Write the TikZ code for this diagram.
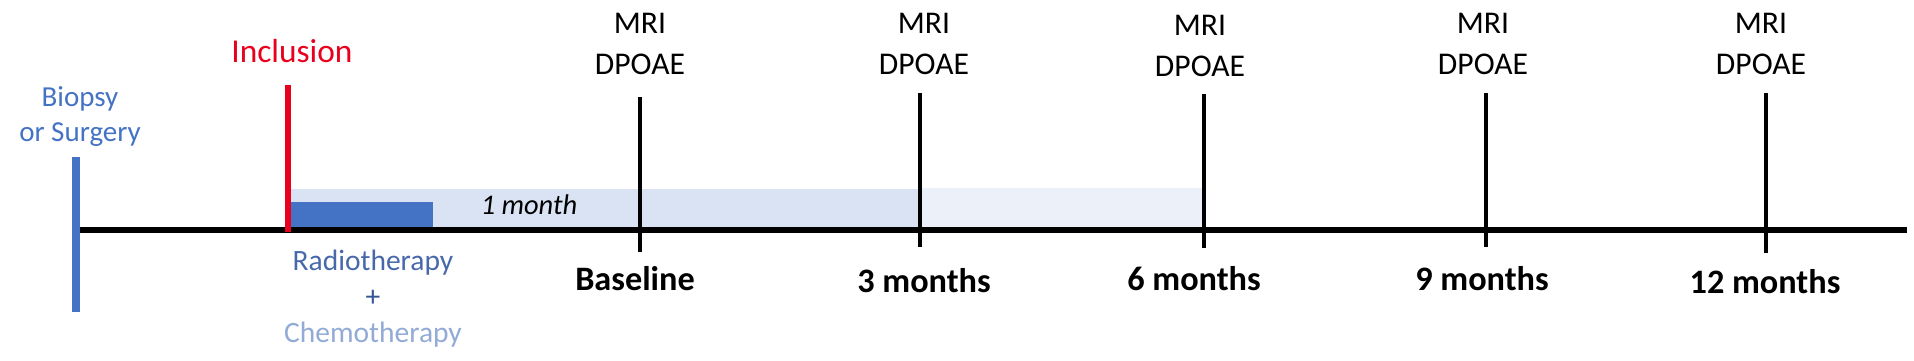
\documentclass[tikz,border=0pt]{standalone}
\usepackage{fontspec}
\setmainfont{Carlito}
\usepackage{xcolor}
\usepackage{tikz}
\definecolor{officeblue}{RGB}{68, 114, 196}
\definecolor{radioblue}{RGB}{72, 104, 172}
\definecolor{plusblue}{RGB}{52, 84, 150}
\definecolor{chemoblue}{RGB}{146, 170, 214}
\definecolor{bandblue}{RGB}{218, 227, 243}
\definecolor{paleblue}{RGB}{236, 241, 249}
\definecolor{inclred}{RGB}{232, 0, 28}

\begin{document}
\begin{tikzpicture}[x=0.02cm, y=-0.02cm,
    exam/.style={align=center, inner sep=0pt, anchor=north,
                 font=\fontsize{18}{23.3}\selectfont},
    timepoint/.style={inner sep=0pt, anchor=base,
                      font=\bfseries\fontsize{19.5}{23}\selectfont},
    visitline/.style={line width=2.8pt, black},
    axisline/.style={line width=3.4pt, black}
]
\useasboundingbox (0,0) rectangle (1914,361);

% treatment period
\fill[paleblue] (920,188) rectangle (1202,229);
\fill[bandblue] (289,189) rectangle (920,229);
\fill[officeblue] (289,202) rectangle (433,229);

% time axis
\draw[axisline] (76,230) -- (1907,230);
\draw[visitline] (640,97) -- (640,252);
\draw[visitline] (920,93) -- (920,247);
\draw[visitline] (1204,94) -- (1204,248);
\draw[visitline] (1486,93) -- (1486,247);
\draw[visitline] (1766,93) -- (1766,253);
\draw[inclred, line width=3pt] (288,85) -- (288,232);
\draw[officeblue, line width=4.5pt] (76,157) -- (76,312);

% labels
\node[align=center, inner sep=0pt, anchor=north, text=officeblue,
      font=\fontsize{16.5}{19.9}\selectfont] (biopsy) at (80,86) {Biopsy\\or Surgery};
\node[inner sep=0pt, anchor=base, text=inclred,
      font=\fontsize{19}{23}\selectfont] (inclusion) at (292,63) {Inclusion};
\node[inner sep=0pt, anchor=base,
      font=\itshape\fontsize{16.2}{20}\selectfont] (month) at (529,215) {1 month};
\node[align=center, inner sep=0pt, anchor=north,
      font=\fontsize{16.8}{20.5}\selectfont] (treat) at (373,250)
      {\textcolor{radioblue}{Radiotherapy}\\\textcolor{plusblue}{+}\\\textcolor{chemoblue}{Chemotherapy}};

\node[exam] (exam0) at (640,13) {MRI\\DPOAE};
\node[exam] (exam3) at (924,13) {MRI\\DPOAE};
\node[exam] (exam6) at (1200,15) {MRI\\DPOAE};
\node[exam] (exam9) at (1483,13) {MRI\\DPOAE};
\node[exam] (exam12) at (1761,13) {MRI\\DPOAE};

\node[timepoint] (baseline) at (635,291) {Baseline};
\node[timepoint] (m3) at (924,293) {3 months};
\node[timepoint] (m6) at (1194,291) {6 months};
\node[timepoint] (m9) at (1482,291) {9 months};
\node[timepoint] (m12) at (1765,294) {12 months};

\end{tikzpicture}
\end{document}
